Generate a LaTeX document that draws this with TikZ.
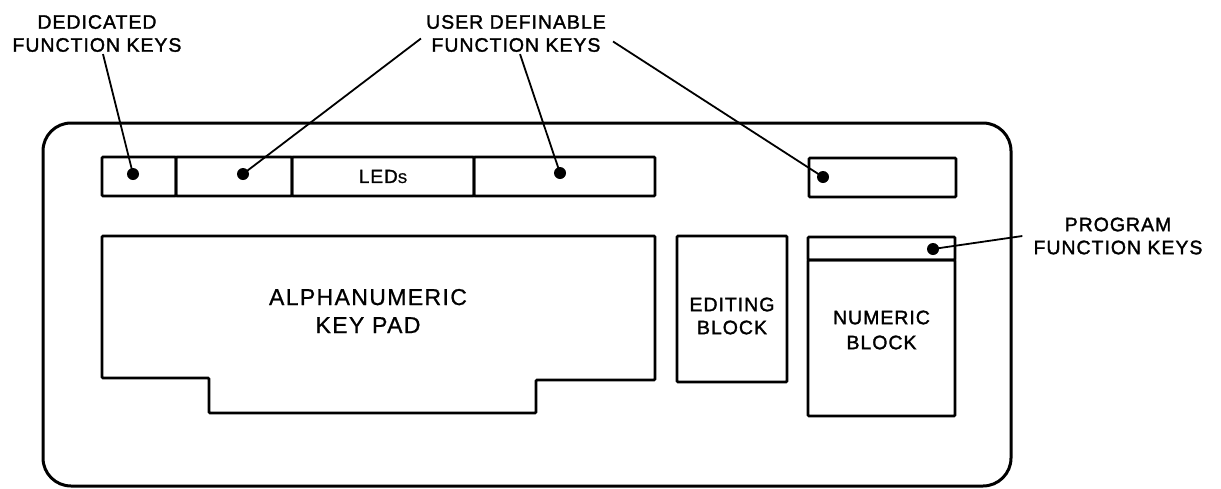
\documentclass[tikz,border=0pt]{standalone}
\usepackage{fontspec}
\setmainfont{Liberation Sans}[LetterSpace=6, FakeBold=0.8]
\newfontfamily\lblfont{Liberation Sans}[LetterSpace=5, FakeBold=1.6]
\usepackage{tikz}
\usetikzlibrary{positioning}
\tikzstyle{leader} = [line width=1.8pt]

\begin{document}
\begin{tikzpicture}[x=1pt,y=-1pt,
keybox/.style={rectangle, draw, line width=2.8pt, rounded corners=1pt, inner sep=0pt, minimum height=39pt},
keydot/.style={circle, fill, inner sep=0pt, minimum size=12pt},
lbl/.style={align=center, inner sep=0pt, font=\lblfont\fontsize{19.5}{23}\selectfont},]
\useasboundingbox (0,0) rectangle (1221,488);
%Nodes
\node[rectangle, draw, line width=3pt, rounded corners=28pt, minimum width=968pt, minimum height=363pt] (panel) at (527,304.5) {};

\node[keybox, minimum width=74pt]  (ded)  at (139,176.5) {};
\node[keybox, minimum width=116pt] (ufka) at (234,176.5) {};
\node[keybox, minimum width=182pt] (leds) at (383,176.5) {\lblfont\fontsize{19}{23}\selectfont LED{\fontsize{14}{14}\selectfont S}};
\node[keybox, minimum width=181pt] (ufkb) at (564.5,176.5) {};
\node[keybox, minimum width=147pt] (ufkc) at (882.5,177.5) {};

\draw[line width=2.8pt, rounded corners=1pt] (102,236) -- (655,236) -- (655,380) -- (536,380) -- (536,413) -- (209,413) -- (209,378) -- (102,378) -- cycle;
\node[lbl, font=\fontsize{23}{28}\selectfont] (alph) at (368,311) {ALPHANUMERIC\\KEY PAD};

\node[keybox, minimum width=110pt, minimum height=146pt] (edit) at (732,309) {};
\node[lbl] (edtxt) at (732,316) {EDITING\\BLOCK};

\node[keybox, minimum width=147pt, minimum height=156pt] (num) at (881.5,338) {};
\node[keybox, minimum width=147pt, minimum height=23pt] (prog) at (881.5,248.5) {};
\node[lbl, font=\lblfont\fontsize{19.5}{25}\selectfont] (numtxt) at (881.5,330) {NUMERIC\\BLOCK};

\node[keydot] (da) at (133,174) {};
\node[keydot] (ua) at (243,174) {};
\node[keydot] (ub) at (560,173) {};
\node[keydot] (uc) at (823,177) {};
\node[keydot] (pa) at (933,249) {};

\node[lbl] (dedlbl) at (97,33.5) {DEDICATED\\FUNCTION KEYS};
\node[lbl] (udlbl) at (516,33.5) {USER DEFINABLE\\FUNCTION KEYS};
\node[lbl] (pfklbl) at (1118,236) {PROGRAM\\FUNCTION KEYS};

%Lines
\draw[leader] ([xshift=6pt,yshift=-2pt]dedlbl.south) -- (da.center);
\draw[leader] ([xshift=-5pt,yshift=-5pt]udlbl.west) -- (ua.center);
\draw[leader] ([xshift=4pt,yshift=-2pt]udlbl.south) -- (ub.center);
\draw[leader] ([xshift=7pt,yshift=-8pt]udlbl.east) -- (uc.center);
\draw[leader] (pa.center) -- ([xshift=-11pt]pfklbl.west);
\end{tikzpicture}
\end{document}
